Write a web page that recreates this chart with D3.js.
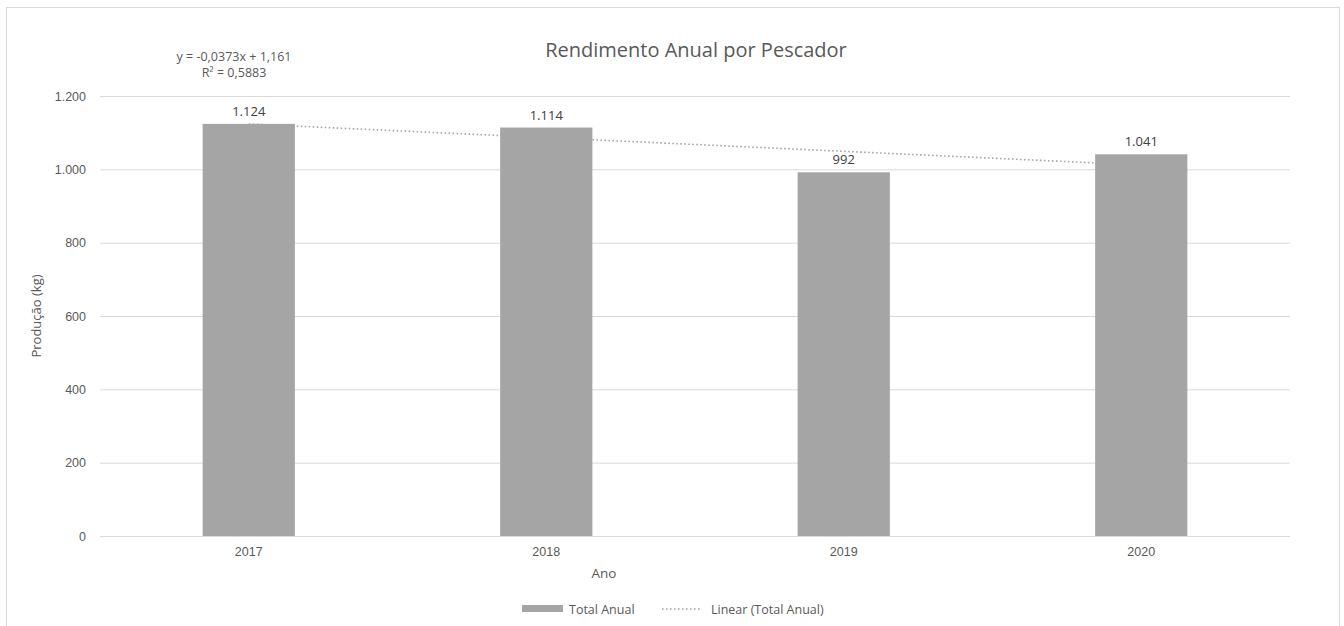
<!DOCTYPE html>
<html>
<head>
<meta charset="utf-8">
<script src="https://cdn.jsdelivr.net/npm/d3@7"></script>
<style>
  html, body { margin: 0; padding: 0; background: #fff; }
  svg { display: block; font-family: "Open Sans", "Noto Sans", sans-serif; }
</style>
</head>
<body>
<svg id="chart" width="1344" height="626"></svg>
<script>
// Produção anual por pescador (kg)
const years = ["2017", "2018", "2019", "2020"];
const totalAnual = [1124, 1114, 992, 1041];
const yTicks = [0, 200, 400, 600, 800, 1000, 1200];
// Linha de tendência linear (em milhares de kg), x = 1..n
const trendSlope = -0.0373;
const trendIntercept = 1.161;
const trendR2 = 0.5883;

const W = 1344, H = 626;
const margin = { left: 100, right: 54, top: 96, bottom: 90 };
const svg = d3.select("#chart");

const fmtPt = v => d3.format(",")(v).replace(/,/g, ".");
const fmtBr = (v, d) => v.toFixed(d).replace(".", ",");

// Moldura do gráfico
svg.append("rect")
  .attr("x", 6.5).attr("y", 7.5)
  .attr("width", 1333).attr("height", 640)
  .attr("fill", "#fff").attr("stroke", "#d9d9d9").attr("stroke-width", 1);

const x = d3.scaleBand()
  .domain(years)
  .range([margin.left, W - margin.right])
  .paddingInner(0.69).paddingOuter(0.345);

const y = d3.scaleLinear()
  .domain([0, 1200])
  .range([H - margin.bottom, margin.top]);

// Linhas de grade horizontais
const yAxis = d3.axisLeft(y).tickValues(yTicks).tickFormat(fmtPt)
  .tickSize(-(W - margin.right - margin.left)).tickPadding(14);
const gy = svg.append("g")
  .attr("transform", `translate(${margin.left},0)`)
  .call(yAxis);
gy.select(".domain").remove();
gy.selectAll(".tick line").attr("stroke", "#d9d9d9").attr("stroke-width", 1);
gy.selectAll(".tick text").attr("fill", "#595959").attr("font-size", 12.5);

// Eixo das categorias
const xAxis = d3.axisBottom(x).tickSize(0).tickPadding(11);
const gx = svg.append("g")
  .attr("transform", `translate(0,${H - margin.bottom})`)
  .call(xAxis);
gx.select(".domain").remove();
gx.selectAll(".tick text").attr("fill", "#595959").attr("font-size", 12.5);

// Linha de tendência (atrás das barras)
const xIdx = i => x(years[i - 1]) + x.bandwidth() / 2;
const trendPts = [1, years.length].map(i => [xIdx(i), y((trendSlope * i + trendIntercept) * 1000)]);
svg.append("path")
  .attr("d", d3.line()(trendPts))
  .attr("fill", "none")
  .attr("stroke", "#a6a6a6")
  .attr("stroke-width", 1.6)
  .attr("stroke-dasharray", "1.6 2.4");

// Barras
svg.append("g").selectAll("rect")
  .data(totalAnual)
  .join("rect")
  .attr("x", (d, i) => x(years[i]))
  .attr("y", d => y(d))
  .attr("width", x.bandwidth())
  .attr("height", d => y(0) - y(d))
  .attr("fill", "#a5a5a5");

// Rótulos de dados
svg.append("g").selectAll("text")
  .data(totalAnual)
  .join("text")
  .attr("x", (d, i) => x(years[i]) + x.bandwidth() / 2)
  .attr("y", d => y(d) - 8)
  .attr("text-anchor", "middle")
  .attr("fill", "#404040")
  .attr("font-size", 13)
  .text(d => fmtPt(d));

// Título
svg.append("text")
  .attr("x", 696).attr("y", 57)
  .attr("text-anchor", "middle")
  .attr("fill", "#595959")
  .attr("font-size", 20)
  .text("Rendimento Anual por Pescador");

// Equação da tendência
const eq = svg.append("text")
  .attr("text-anchor", "middle")
  .attr("fill", "#595959")
  .attr("font-size", 12.5);
eq.append("tspan").attr("x", 234).attr("y", 61)
  .text(`y = ${fmtBr(trendSlope, 4)}x + ${fmtBr(trendIntercept, 3)}`);
eq.append("tspan").attr("x", 234).attr("y", 77)
  .text(`R² = ${fmtBr(trendR2, 4)}`);

// Títulos dos eixos
svg.append("text")
  .attr("x", 604).attr("y", 578)
  .attr("text-anchor", "middle")
  .attr("fill", "#595959").attr("font-size", 13.5)
  .text("Ano");
svg.append("text")
  .attr("transform", "translate(41,316) rotate(-90)")
  .attr("text-anchor", "middle")
  .attr("fill", "#595959").attr("font-size", 13)
  .text("Produção (kg)");

// Legenda
const lg = svg.append("g").attr("transform", "translate(0,609)");
lg.append("rect").attr("x", 522).attr("y", -4).attr("width", 41).attr("height", 7).attr("fill", "#a5a5a5");
lg.append("text").attr("x", 569).attr("y", 4.5).attr("fill", "#595959").attr("font-size", 12.5).text("Total Anual");
lg.append("line").attr("x1", 662).attr("x2", 702).attr("y1", 0).attr("y2", 0)
  .attr("stroke", "#a6a6a6").attr("stroke-width", 1.6).attr("stroke-dasharray", "1.6 2.4");
lg.append("text").attr("x", 711).attr("y", 4.5).attr("fill", "#595959").attr("font-size", 12.5).text("Linear (Total Anual)");
</script>
</body>
</html>
